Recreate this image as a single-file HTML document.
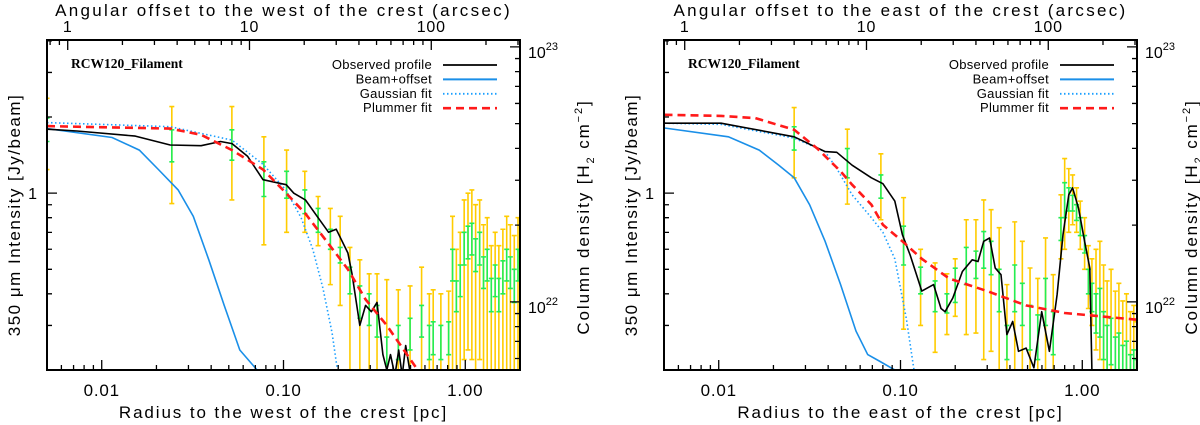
<!DOCTYPE html>
<html><head><meta charset="utf-8"><style>
html,body{margin:0;padding:0;background:#fff;}
svg{display:block;font-family:"Liberation Sans","DejaVu Sans",sans-serif;}
</style></head><body>
<svg id="fig" width="1200" height="425" viewBox="0 0 1200 425" xmlns="http://www.w3.org/2000/svg"></svg>
<script>
// ---------- LEFT (west) panel data ----------
const westObsR=[0.0050,0.0073,0.0153,0.0238,0.0352,0.0450,0.0521,0.0634,0.0771,0.1035,0.114,0.132,0.153,0.177,0.195,0.226,0.238,0.263,0.283,0.304,0.327,0.352,0.370,0.388,0.41,0.43,0.45,0.47,0.50];
const westObsI=[1.79,1.76,1.68,1.55,1.54,1.60,1.57,1.40,1.13,1.08,1.00,0.94,0.81,0.70,0.72,0.58,0.48,0.30,0.36,0.34,0.37,0.23,0.20,0.23,0.19,0.24,0.19,0.25,0.19];
const westBeamR=[0.0050,0.0114,0.0161,0.0205,0.0263,0.0319,0.0388,0.0472,0.0575,0.0716];
const westBeamI=[1.80,1.66,1.48,1.24,1.03,0.81,0.545,0.36,0.24,0.20];
const westGaussR=[0.005,0.0238,0.0521,0.0771,0.103,0.125,0.145,0.165,0.185,0.198];
const westGaussI=[1.90,1.83,1.62,1.30,1.03,0.80,0.60,0.42,0.28,0.20];
const westPlumR=[0.0050,0.0238,0.0352,0.0521,0.0771,0.1035,0.132,0.177,0.226,0.283,0.370,0.547];
const westPlumI=[1.84,1.80,1.70,1.48,1.24,1.00,0.83,0.63,0.50,0.38,0.30,0.20];
const westErrR=[0.0050,0.0243,0.052,0.078,0.104,0.131,0.155,0.181,0.205,0.232,0.263,0.296,0.327,0.370,0.428,0.497,0.575,0.634,0.666,0.734,0.81,0.851,0.893,0.938,0.986,1.035,1.087,1.14,1.2,1.26,1.32,1.39,1.46,1.53,1.61,1.69,1.77,1.86,1.95];
const westErrTop=[2.37,2.20,2.20,1.67,1.48,1.22,0.97,0.87,0.81,0.61,0.545,0.48,0.48,0.455,0.415,0.43,0.51,0.40,0.415,0.40,0.41,0.81,0.60,0.70,0.94,1.00,1.03,0.90,0.94,0.75,0.80,0.62,0.70,0.62,0.72,0.81,0.75,0.68,0.80];
const westErrBot=[1.24,0.91,0.94,0.625,0.70,0.70,0.62,0.435,0.36,0.20,0.20,0.20,0.20,0.20,0.20,0.20,0.20,0.20,0.20,0.20,0.20,0.20,0.20,0.20,0.22,0.24,0.22,0.20,0.22,0.20,0.20,0.20,0.20,0.20,0.20,0.20,0.20,0.20,0.20];
const westGrnTop=[1.98,1.78,1.78,1.33,1.22,1.03,0.87,0.72,0.61,0.51,0.43,0.40,0.36,0.27,0.30,0.32,0.36,0.30,0.31,0.30,0.31,0.60,0.45,0.52,0.70,0.74,0.76,0.66,0.70,0.56,0.60,0.46,0.52,0.46,0.54,0.60,0.56,0.50,0.60];
const westGrnBot=[1.60,1.33,1.35,0.97,0.955,0.83,0.70,0.60,0.53,0.40,0.32,0.30,0.27,0.20,0.22,0.24,0.27,0.22,0.23,0.22,0.23,0.45,0.34,0.39,0.52,0.55,0.57,0.49,0.52,0.42,0.45,0.34,0.39,0.34,0.40,0.45,0.42,0.37,0.45];

// ---------- RIGHT (east) panel data ----------
const eastObsR=[0.00503,0.0103,0.026,0.0385,0.0446,0.0542,0.0692,0.080,0.093,0.1025,0.113,0.131,0.152,0.167,0.176,0.194,0.219,0.248,0.267,0.287,0.309,0.332,0.357,0.385,0.414,0.446,0.491,0.542,0.598,0.659,0.727,0.783,0.843,0.885,0.953,1.03,1.10,1.13];
const eastObsI=[1.89,1.89,1.67,1.46,1.45,1.29,1.15,1.09,0.93,0.685,0.57,0.41,0.435,0.35,0.34,0.385,0.49,0.545,0.537,0.645,0.665,0.506,0.476,0.276,0.311,0.237,0.244,0.204,0.34,0.237,0.397,0.685,0.985,1.05,0.873,0.645,0.506,0.20];
const eastBeamR=[0.00503,0.0113,0.0167,0.0214,0.026,0.0316,0.0385,0.0468,0.0569,0.066,0.0764,0.093];
const eastBeamI=[1.81,1.67,1.48,1.29,1.15,0.90,0.645,0.435,0.285,0.23,0.217,0.20];
const eastGaussR=[0.00503,0.0103,0.026,0.0385,0.0446,0.0542,0.0692,0.080,0.093,0.1076,0.1186];
const eastGaussI=[1.89,1.87,1.65,1.46,1.25,0.985,0.80,0.70,0.55,0.32,0.20];
const eastPlumR=[0.00503,0.0103,0.0159,0.026,0.0349,0.0468,0.0542,0.0692,0.080,0.1025,0.131,0.185,0.30,0.49,0.80,1.99];
const eastPlumI=[2.04,2.02,1.98,1.78,1.50,1.22,1.08,0.90,0.75,0.645,0.55,0.46,0.41,0.36,0.336,0.316];
const eastErrR=[0.026,0.051,0.078,0.104,0.129,0.155,0.18,0.20,0.23,0.26,0.287,0.315,0.349,0.385,0.425,0.468,0.516,0.569,0.628,0.692,0.763,0.80,0.843,0.885,0.93,0.975,1.03,1.08,1.13,1.19,1.25,1.31,1.37,1.44,1.52,1.59,1.67,1.75,1.84,1.92,1.99];
const eastErrTop=[2.18,1.79,1.43,0.96,0.60,0.53,0.48,0.55,0.785,0.785,0.94,0.86,0.73,0.435,0.77,0.645,0.506,0.46,0.665,0.476,0.985,1.37,1.25,1.18,1.05,0.93,0.80,0.62,0.55,0.60,0.645,0.52,0.45,0.50,0.41,0.44,0.375,0.40,0.34,0.36,0.31];
const eastErrBot=[1.15,0.905,0.785,0.29,0.30,0.235,0.276,0.326,0.276,0.28,0.22,0.237,0.20,0.20,0.20,0.20,0.20,0.20,0.20,0.20,0.55,0.60,0.70,0.75,0.70,0.60,0.50,0.35,0.30,0.24,0.22,0.20,0.20,0.20,0.20,0.20,0.20,0.20,0.20,0.20,0.20];
const eastGrnTop=[1.83,1.50,1.18,0.74,0.51,0.45,0.40,0.505,0.61,0.59,0.705,0.645,0.50,0.30,0.52,0.44,0.36,0.33,0.46,0.34,0.80,1.10,1.05,0.98,0.90,0.80,0.68,0.50,0.44,0.40,0.42,0.34,0.30,0.32,0.27,0.28,0.25,0.26,0.23,0.24,0.22];
const eastGrnBot=[1.48,1.15,0.955,0.52,0.40,0.34,0.336,0.37,0.435,0.46,0.505,0.476,0.34,0.22,0.34,0.30,0.24,0.22,0.30,0.23,0.65,0.80,0.85,0.85,0.78,0.68,0.58,0.40,0.34,0.28,0.27,0.22,0.20,0.21,0.20,0.20,0.20,0.20,0.20,0.20,0.20];

const yTicksMinor=[0.2,0.3,0.4,0.5,0.6,0.7,0.8,0.9,2,3,4];
const xTicksMajor=[0.01,0.1,1];
const xTickLabels=["0.01","0.10","1.00"];
const topTicksMajor=[1,10,100];
const topTickLabels=["1","10","100"];
const nhMajor=[1e22,1e23];
const legendLabels=["Observed profile","Beam+offset","Gaussian fit","Plummer fit"];

const NS="http://www.w3.org/2000/svg";
const svg=document.getElementById('fig');
function mk(tag,attrs,parent){const e=document.createElementNS(NS,tag);for(const k in attrs)e.setAttribute(k,attrs[k]);(parent||svg).appendChild(e);return e;}

const X0=47,X1=520,Y0=40,Y1=370;
const RMIN=0.005,RMAX=2.0,IMIN=0.2,IMAX=4.03;
const ARC=0.0065; // pc per arcsec
const NMIN=Math.pow(10,21.733),NMAX=Math.pow(10,23.027);

function panel(off,side,d,rtx){
  const g=mk('g',{});
  
  
  const xs=r=>off+X0+(Math.log10(r)-Math.log10(RMIN))/(Math.log10(RMAX)-Math.log10(RMIN))*(X1-X0);
  const ys=v=>Y1-(Math.log10(v)-Math.log10(IMIN))/(Math.log10(IMAX)-Math.log10(IMIN))*(Y1-Y0);
  const ysN=n=>Y1-(Math.log10(n)-Math.log10(NMIN))/(Math.log10(NMAX)-Math.log10(NMIN))*(Y1-Y0);
  const cid='clip'+side;
  const cp=mk('clipPath',{id:cid},g);mk('rect',{x:off+X0,y:Y0,width:X1-X0,height:Y1-Y0},cp);
  const plot=mk('g',{'clip-path':'url(#'+cid+')'},g);
  
  
  for(let i=0;i<d.er.length;i++){
    const x=xs(d.er[i]);
    const yb=mk('path',{d:`M${x},${ys(d.et[i])}V${ys(d.eb[i])}M${x-2.5},${ys(d.et[i])}h5M${x-2.5},${ys(d.eb[i])}h5`,stroke:'#ffcc00','stroke-width':1.6,fill:'none'},plot);
    
    
  }
  for(let i=0;i<d.er.length;i++){
    const x=xs(d.er[i]);
    const gb=mk('path',{d:`M${x},${ys(d.gt[i])}V${ys(d.gb[i])}M${x-2.5},${ys(d.gt[i])}h5M${x-2.5},${ys(d.gb[i])}h5`,stroke:'#22ee55','stroke-width':1.6,fill:'none'},plot);
    
    
  }
  const line=(R,V)=>R.map((r,i)=>(i?'L':'M')+xs(r).toFixed(1)+','+ys(V[i]).toFixed(1)).join('');
  const gl=mk('path',{d:line(d.gr,d.gi),stroke:'#1a9fff','stroke-width':1.6,'stroke-dasharray':'1.5 2.5',fill:'none'},plot);
  
  
  const bl=mk('path',{d:line(d.br,d.bi),stroke:'#1a8fe8','stroke-width':1.6,fill:'none'},plot);
  
  
  const ol=mk('path',{d:line(d.or,d.oi),stroke:'#000','stroke-width':1.6,fill:'none','stroke-linejoin':'round'},plot);
  
  
  const pl=mk('path',{d:line(d.pr,d.pi),stroke:'#ff1a1a','stroke-width':2.6,'stroke-dasharray':'8 5',fill:'none'},plot);
  
  
  const fr=mk('rect',{x:off+X0,y:Y0,width:X1-X0,height:Y1-Y0,fill:'none',stroke:'#000','stroke-width':2},g);
  
  
  let t='';
  for(let e=-3;e<=0;e++)for(let m=1;m<10;m++){const r=m*Math.pow(10,e);if(r<RMIN||r>RMAX)continue;const x=xs(r);const L=m===1?10:5;t+=`M${x},${Y1}v${-L}`;}
  for(let e=-1;e<=2;e++)for(let m=1;m<10;m++){const a=m*Math.pow(10,e);const r=a*ARC;if(r<RMIN||r>RMAX)continue;const x=xs(r);const L=m===1?10:5;t+=`M${x},${Y0}v${L}`;}
  yTicksMinor.forEach(v=>{t+=`M${off+X0},${ys(v)}h5`;});
  t+=`M${off+X0},${ys(1)}h10`;
  for(let e=21;e<=23;e++)for(let m=1;m<10;m++){const n=m*Math.pow(10,e);if(n<NMIN||n>NMAX)continue;const L=m===1?10:5;t+=`M${off+X1},${ysN(n)}h${-L}`;}
  const tk=mk('path',{d:t,stroke:'#000','stroke-width':1.3,fill:'none'},g);
  
  
  const txt=(s,x,y,attrs,name)=>{const e=mk('text',Object.assign({x:x,y:y,'font-size':15,fill:'#000'},attrs||{}),g);e.textContent=s;return e;};
  xTicksMajor.forEach((r,i)=>txt(xTickLabels[i],xs(r),396,{'text-anchor':'middle','font-size':17,'letter-spacing':'0.8'},'x-tick-label'));
  topTicksMajor.forEach((a,i)=>txt(topTickLabels[i],xs(a*ARC),32,{'text-anchor':'middle','font-size':16,'letter-spacing':'0.8'},'top-tick-label'));
  txt('1',off+X0-10,199,{'text-anchor':'end','font-size':16},'y-tick-label');
  nhMajor.forEach(n=>{const e=txt('10',off+X1+8,ysN(n)+11,{'font-size':16},'right-tick-label');const s=mk('tspan',{dy:-8,'font-size':11},e);s.textContent=Math.round(Math.log10(n));});
  txt('Radius to the '+side+' of the crest [pc]',off+X0+(X1-X0)/2,418,{'text-anchor':'middle','font-size':17,'letter-spacing':'1.9'},'x-axis-title');
  txt('Angular offset to the '+side+' of the crest (arcsec)',off+X0+(X1-X0)/2,16,{'text-anchor':'middle','font-size':17,'letter-spacing':'2.3'},'top-axis-title');
  txt('350 μm Intensity [Jy/beam]',0,0,{'text-anchor':'middle','font-size':17,'letter-spacing':'1.5',transform:`translate(${off+20},${(Y0+Y1)/2+10}) rotate(-90)`},'y-axis-title');
  const yr=mk('text',{'text-anchor':'middle','font-size':17,'letter-spacing':'1.9',transform:`translate(${rtx},${(Y0+Y1)/2+12}) rotate(-90)`},g);
  
  
  yr.appendChild(document.createTextNode('Column density [H'));
  const sb=mk('tspan',{dy:5,'font-size':11},yr);sb.textContent='2';
  const sp=mk('tspan',{dy:-5},yr);sp.textContent=' cm';
  const su=mk('tspan',{dy:-7,'font-size':11},yr);su.textContent='−2';
  const sq=mk('tspan',{dy:7},yr);sq.textContent=']';
  txt('RCW120_Filament',off+71,68,{'font-family':'"Liberation Serif",serif','font-size':13.5,'font-weight':'bold'},'panel-label');
  const styles=[{stroke:'#000','stroke-width':1.8},{stroke:'#1a8fe8','stroke-width':2},{stroke:'#1a9fff','stroke-width':1.8,'stroke-dasharray':'1.5 2.5'},{stroke:'#ff1a1a','stroke-width':2.6,'stroke-dasharray':'8 5'}];
  legendLabels.forEach((s,i)=>{const y=65+i*14.4;txt(s,off+432,y+4,{'text-anchor':'end','font-size':13,'letter-spacing':'0.3'},'legend-entry');const l=mk('line',Object.assign({x1:off+443,x2:off+497,y1:y,y2:y},styles[i]),g);});
}
panel(0,'west',{or:westObsR,oi:westObsI,br:westBeamR,bi:westBeamI,gr:westGaussR,gi:westGaussI,pr:westPlumR,pi:westPlumI,er:westErrR,et:westErrTop,eb:westErrBot,gt:westGrnTop,gb:westGrnBot},589);
panel(617,'east',{or:eastObsR,oi:eastObsI,br:eastBeamR,bi:eastBeamI,gr:eastGaussR,gi:eastGaussI,pr:eastPlumR,pi:eastPlumI,er:eastErrR,et:eastErrTop,eb:eastErrBot,gt:eastGrnTop,gb:eastGrnBot},1197);
</script>
</body></html>
